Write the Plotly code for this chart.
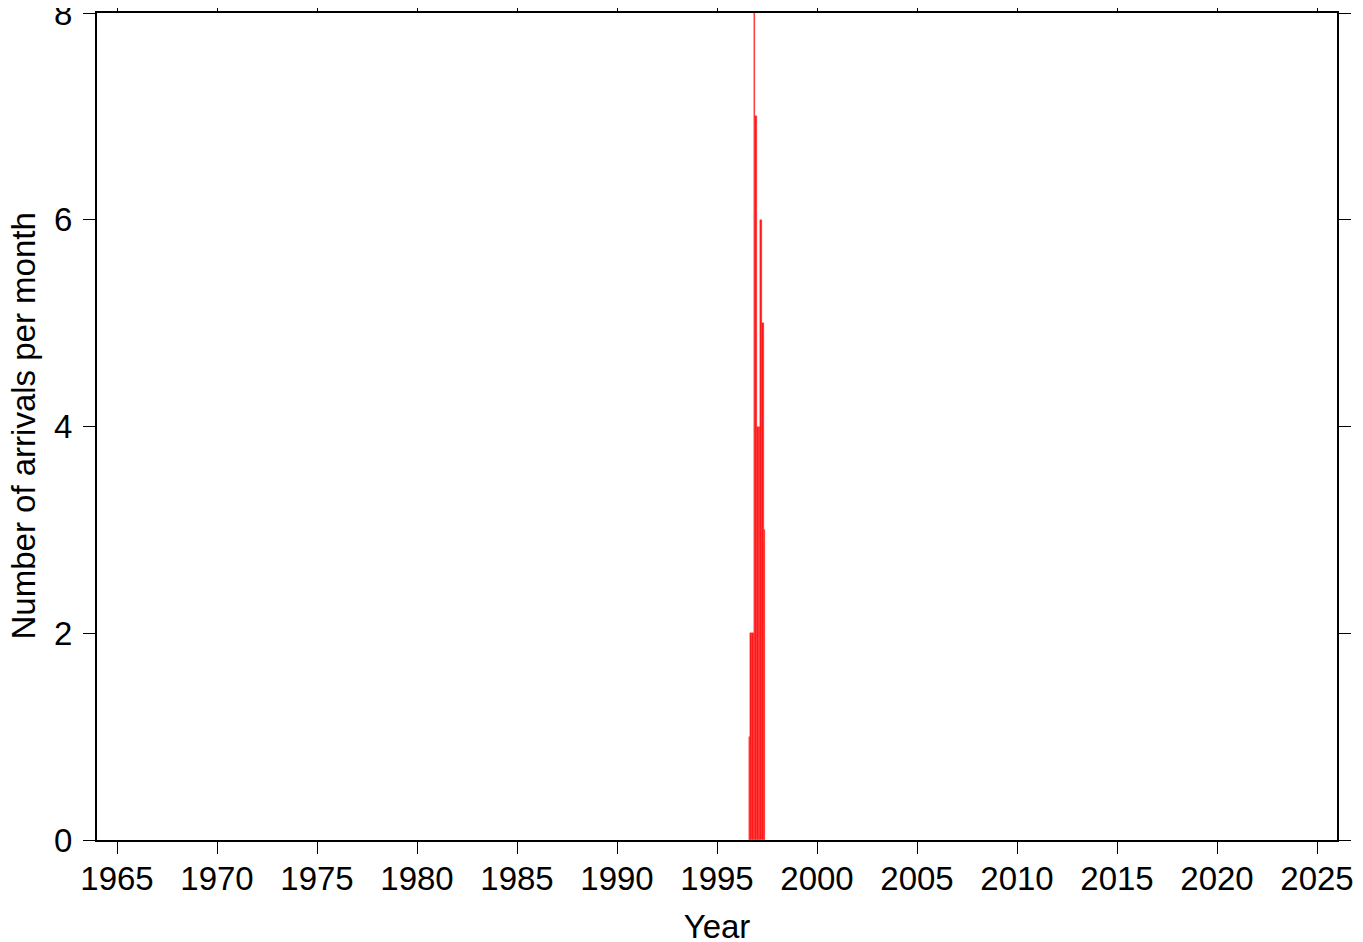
import plotly.graph_objects as go

# Monthly arrival counts (year, month, count)
years = [1996, 1996, 1996, 1996, 1996, 1997, 1997, 1997, 1997, 1997]
months = [8, 9, 10, 11, 12, 1, 2, 3, 4, 5]
counts = [1, 2, 2, 8, 7, 4, 4, 6, 5, 3]

x_ticks = [1965, 1970, 1975, 1980, 1985, 1990, 1995, 2000, 2005, 2010, 2015, 2020, 2025]
y_ticks = [0, 2, 4, 6, 8]

month_w = 1.0 / 12
x_centers = [y + (m - 1) / 12 + month_w / 2 for y, m in zip(years, months)]

fig = go.Figure()
fig.add_trace(go.Bar(
    x=x_centers, y=counts, width=month_w,
    marker=dict(color="rgb(255,20,20)", line=dict(color="rgb(255,60,60)", width=0.4)),
    showlegend=False,
))

font = dict(family="Liberation Sans, Arial, Helvetica, sans-serif", size=33, color="black")
fig.update_layout(
    width=1363, height=942,
    margin=dict(l=89, r=34, t=5, b=110),
    plot_bgcolor="white", paper_bgcolor="white",
    font=font,
    bargap=0,
)
fig.update_xaxes(
    range=[1964, 2026], tickvals=x_ticks, ticktext=[str(v) for v in x_ticks],
    showgrid=False, zeroline=False, automargin=False,
    showline=True, linecolor="black", linewidth=2, mirror="ticks",
    ticks="outside", ticklen=12, tickwidth=1, tickcolor="black",
    ticklabeloverflow="allow", ticklabelstandoff=-4,
    title=dict(text="Year", standoff=19, font=font),
)
fig.update_yaxes(
    range=[0, 8], tickvals=y_ticks,
    showgrid=False, zeroline=False, automargin=False,
    showline=True, linecolor="black", linewidth=2, mirror="ticks",
    ticks="outside", ticklen=12, tickwidth=1, tickcolor="black",
    ticklabelstandoff=4, ticklabeloverflow="allow",
)
fig.add_annotation(
    text="Number of arrivals per month", textangle=-90,
    xref="paper", yref="paper", x=0, y=0.5,
    xanchor="center", yanchor="middle", xshift=-74, showarrow=False,
    font=font,
)
fig.write_html("out.html")
